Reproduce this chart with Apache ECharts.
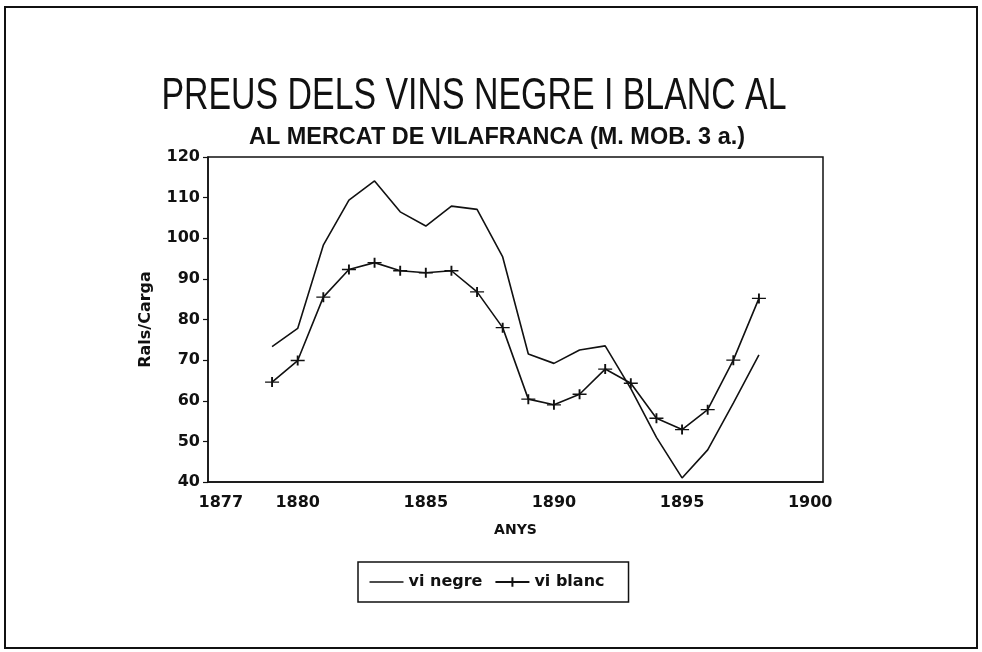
<!DOCTYPE html>
<html>
<head>
<meta charset="utf-8">
<script src="https://cdn.jsdelivr.net/npm/echarts@6/dist/echarts.min.js"></script>
<style>html,body{margin:0;padding:0;background:#fff;}#c{width:982px;height:652px;}</style>
</head>
<body>
<div id="c"></div>
<script>
// Axis categories (years) and labelled ticks
const axisYears = [1877,1878,1879,1880,1881,1882,1883,1884,1885,1886,1887,1888,1889,1890,1891,1892,1893,1894,1895,1896,1897,1898,1899,1900];
const labelYears = [1877,1880,1885,1890,1895,1900];
// Data years
const dataYears = [1879,1880,1881,1882,1883,1884,1885,1886,1887,1888,1889,1890,1891,1892,1893,1894,1895,1896,1897,1898];
// vi negre (rals/carga)
const viNegre = [73.3,77.8,98.3,109.4,114.1,106.5,103.0,107.9,107.1,95.4,71.5,69.2,72.5,73.5,63.0,51.0,41.0,47.9,59.4,71.3];
// vi blanc (rals/carga)
const viBlanc = [64.6,69.9,85.5,92.3,94.0,92.0,91.5,92.0,86.8,78.0,60.4,59.0,61.6,67.8,64.3,55.7,52.9,57.8,70.0,85.2];

const titleText = 'PREUS DELS VINS NEGRE I BLANC AL';
const subtitleText = 'AL MERCAT DE VILAFRANCA (M. MOB. 3 a.)';

const chart = echarts.init(document.getElementById('c'), null, {renderer:'canvas'});
const toPairs = arr => dataYears.map((y,i)=>[String(y), arr[i]]);
const font = 'DejaVu Sans';

chart.setOption({
  backgroundColor:'#fff',
  animation:false,
  graphic:[
    {type:'rect', shape:{x:5,y:7,width:972,height:641}, style:{fill:'none', stroke:'#111', lineWidth:2}, silent:true},
    {type:'text', x:474, y:119, scaleX:0.77, style:{text:titleText, font:'normal 44px "Liberation Sans"', fill:'#111', textAlign:'center', textVerticalAlign:'bottom'}},
    {type:'text', x:497, y:149, scaleX:1.02, style:{text:subtitleText, font:'bold 23px "Liberation Sans"', fill:'#111', textAlign:'center', textVerticalAlign:'bottom'}}
  ],
  legend:{
    left:358, top:562,
    padding:[12,24,12,9],
    borderColor:'#111', borderWidth:1.5,
    itemWidth:34, itemHeight:12, itemGap:12,
    textStyle:{fontFamily:font, fontWeight:'bold', fontSize:16, color:'#111'},
    data:[
      {name:'vi negre', icon:'path://M0,0 L0,0 M0,10 L0,10 M0,5 L34,5', itemStyle:{color:'none', borderColor:'#111', borderWidth:1.6}},
      'vi blanc'
    ]
  },
  grid:{left:208, right:159, top:157, bottom:170, show:true, borderColor:'#111', borderWidth:1.5, backgroundColor:'transparent'},
  xAxis:{
    type:'category',
    data:axisYears.map(String),
    boundaryGap:true,
    name:'ANYS', nameLocation:'middle', nameGap:41,
    nameTextStyle:{fontFamily:font, fontWeight:'bold', fontSize:14, color:'#111'},
    axisLine:{lineStyle:{color:'#111', width:1.5}},
    axisTick:{alignWithLabel:true, interval:0, length:4, lineStyle:{color:'#111', width:1.2}},
    axisLabel:{
      interval:(idx, val)=>labelYears.indexOf(Number(val))>=0,
      margin:13, fontFamily:font, fontWeight:'bold', fontSize:16, color:'#111'
    },
    splitLine:{show:false}
  },
  yAxis:{
    type:'value', min:40, max:120, interval:10,
    name:'Rals/Carga', nameLocation:'middle', nameGap:54, nameRotate:90,
    nameTextStyle:{fontFamily:font, fontWeight:'bold', fontSize:16, color:'#111'},
    axisLine:{show:true, lineStyle:{color:'#111', width:1.5}},
    axisTick:{show:true, length:5, lineStyle:{color:'#111', width:1.2}},
    axisLabel:{margin:8, fontFamily:font, fontWeight:'bold', fontSize:16, color:'#111'},
    splitLine:{show:false}
  },
  series:[
    {name:'vi negre', type:'line', data:toPairs(viNegre), symbol:'none',
     lineStyle:{color:'#111', width:1.6}, itemStyle:{color:'#111', borderColor:'#111', borderWidth:1.6}},
    {name:'vi blanc', type:'line', data:toPairs(viBlanc),
     symbol:'path://M0,5 L14,5 M7,0 L7,10', symbolSize:[14,10], symbolKeepAspect:false,
     lineStyle:{color:'#111', width:1.6},
     itemStyle:{color:'#111', borderColor:'#111', borderWidth:1.6}}
  ]
});
</script>
</body>
</html>
